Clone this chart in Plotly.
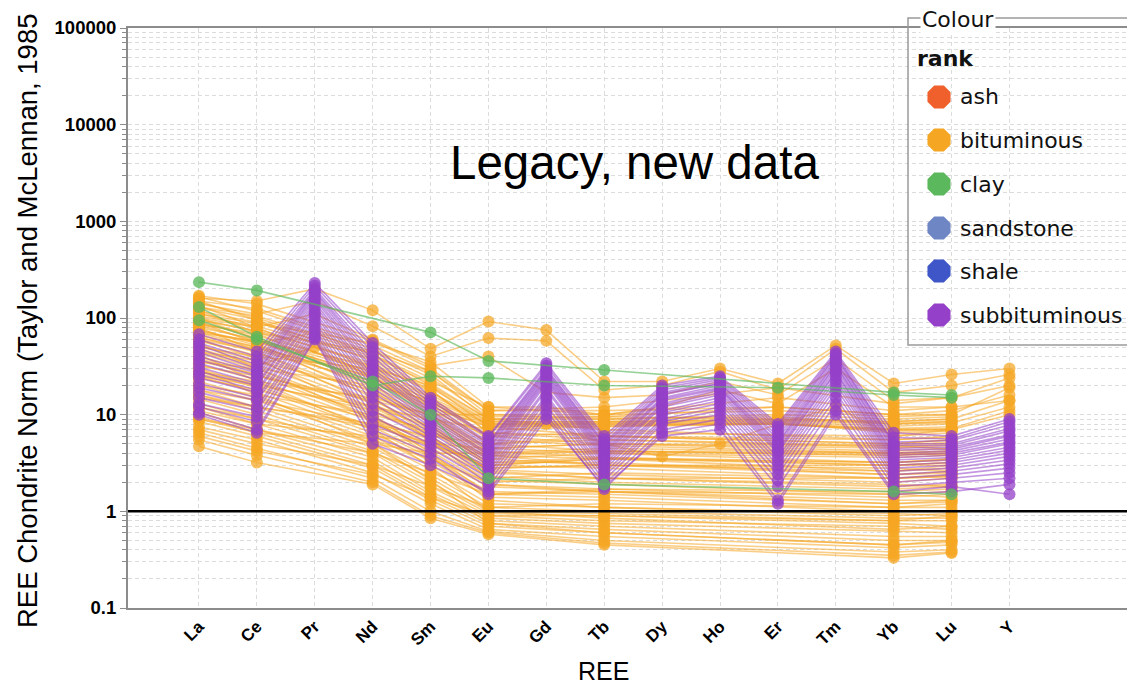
import plotly.graph_objects as go

N = None

# REE elements along the x axis
ree = ["La", "Ce", "Pr", "Nd", "Sm", "Eu", "Gd", "Tb", "Dy", "Ho", "Er", "Tm", "Yb", "Lu", "Y"]

# chondrite-normalised values, one row per sample (order follows `ree`)
bituminous = [
    [160, 150, 200, 120, 48, 92, 75, 22, 22, 30, 21, 52, 21, 26, 30],
    [140, 110, 150, 82, 40, 62, 58, 18, 20, 28, 18, 48, 17, 20, 26],
    [100, 80, 110, 60, 32, 40, 17, 15, 16, 22, 16, 38, 14, 15, 20],
    [75, 55, 70, 42, 22, 12, 12, 10, 12, 18, 13, 30, 12, 12, 14],
    [45, 32, 50, 24, 11, 6, 8, 5, 3.7, 5, 8, 12, 6, 7, 10],
    [170, 140, N, 58, 30, 11, N, 12, N, N, 19, N, 13, 15, 24],
    [150, 125, N, 52, 28, 10, N, 10, N, N, 15, N, 11, 12, N],
    [130, 105, N, 45, 24, 9.5, N, 9.5, N, N, 12, N, 10, 10, 19],
    [118, 90, N, 40, 21, 9, N, 9, N, N, 10, N, 9, 9.5, N],
    [105, 82, N, 38, 19, 8.5, N, 8.5, N, N, 9, N, 8.5, 9, 14],
    [95, 74, N, 34, 17, 8.5, N, 8.5, N, N, 8.8, N, 8.2, 8.5, N],
    [88, 66, N, 30, 16, 8.2, N, 8.4, N, N, 8.6, N, 8, 8.2, 12],
    [80, 60, N, 28, 15, 8, N, 8.2, N, N, 8.4, N, 7.6, 8, N],
    [72, 56, N, 26, 14, 8, N, 8, N, N, 8.2, N, 7.2, 7.5, N],
    [66, 50, N, 24, 13, 7.8, N, 8, N, N, 8, N, 7, 7.2, 11],
    [60, 46, N, 22, 12, 7.6, N, 7.8, N, N, 8, N, 6.8, 7, N],
    [150, 95, N, 30, 12, 7.5, N, 7.6, N, N, 8.2, N, 6.5, 6.8, N],
    [110, 88, N, 55, 35, 12, N, 10, N, N, 11, N, 9.5, 10, N],
    [85, 70, N, 45, 28, 11, N, 11, N, N, 12, N, 10, 11, 16],
    [50, 40, N, 30, 20, 9, N, 9.5, N, N, 9, N, 8.5, 9, N],
    [25, 20, N, 12, 9, 7, N, 7.5, N, N, 8, N, 7, 7, N],
    [32, 25, N, 14, 10, 10, N, 9, N, N, 9.5, N, 8, 8.5, N],
    [165, 118, N, 48, 26, 9, N, 7, N, N, N, N, 5.5, 6, N],
    [145, 100, N, 42, 20, 7.5, N, 6, N, N, N, N, 5, 5.5, N],
    [135, 80, N, 25, 10, 3.8, N, 3, N, N, N, N, 2.4, 2.6, N],
    [128, 96, N, 36, 18, 6.5, N, 5.5, N, N, N, N, 4.6, 5, N],
    [120, 70, N, 20, 8, 3, N, 3.5, N, N, N, N, 3, 3.2, N],
    [112, 78, N, 32, 15, 6, N, 5, N, N, N, N, 4.8, 4.4, N],
    [100, 60, N, 18, 7, 2.6, N, 2.2, N, N, N, N, 1.8, 1.9, N],
    [98, 72, N, 27, 14, 5.5, N, 4.8, N, N, N, N, 4, 4.2, N],
    [92, 62, N, 24, 12, 5, N, 4.2, N, N, N, N, 3.8, 4, N],
    [90, 55, N, 15, 6, 2.2, N, 2.5, N, N, N, N, 2.2, 2.4, N],
    [84, 58, N, 22, 11, 4.5, N, 4, N, N, N, N, 3.2, 3.5, N],
    [80, 45, N, 13, 5.5, 1.9, N, 1.6, N, N, N, N, 1.2, 1.3, N],
    [76, 52, N, 20, 10, 4.2, N, 3.6, N, N, N, N, 3, 3.2, N],
    [70, 58, N, 32, 18, 6.5, N, 6, N, N, N, N, 5.5, 5.8, N],
    [70, 50, N, 17, 9, 3.8, N, 3.5, N, N, N, N, 2.6, 3, N],
    [64, 44, N, 16, 8.5, 3.5, N, 3, N, N, N, N, 2.8, 2.6, N],
    [62, 48, N, 25, 13, 5, N, 5.5, N, N, N, N, 4.8, 5.2, N],
    [60, 38, N, 10, 4, 1.5, N, 1.6, N, N, N, N, 1.5, 1.4, N],
    [58, 41, N, 14, 7.5, 3.2, N, 3.2, N, N, N, N, 2.4, 2.5, N],
    [55, 30, N, 9, 3.8, 1.3, N, 1.1, N, N, N, N, 0.9, 0.95, N],
    [52, 36, N, 13, 7, 3, N, 2.8, N, N, N, N, 2.2, 2.3, N],
    [48, 33, N, 12, 6, 2.7, N, 2.4, N, N, N, N, 2, 2.2, N],
    [45, 36, N, 18, 9.5, 4, N, 4.2, N, N, N, N, 3.8, 4, N],
    [44, 30, N, 11, 5.8, 2.5, N, 2.2, N, N, N, N, 1.9, 1.8, N],
    [42, 22, N, 7, 2.9, 1.0, N, 0.85, N, N, N, N, 0.65, 0.7, N],
    [40, 28, N, 9.5, 5, 2.3, N, 2, N, N, N, N, 1.7, 1.8, N],
    [38, 26, N, 12, 7.5, 3.2, N, 3.6, N, N, N, N, 3.2, 3.5, N],
    [36, 26, N, 9, 4.6, 2.1, N, 1.9, N, N, N, N, 1.5, 1.6, N],
    [35, 30, N, 20, 14, 6, N, 6.5, N, N, N, N, 6, 6.5, N],
    [33, 23, N, 8.5, 4.2, 1.9, N, 1.7, N, N, N, N, 1.4, 1.5, N],
    [30, 20, N, 7.5, 3.8, 1.8, N, 1.6, N, N, N, N, 1.3, 1.3, N],
    [30, 16, N, 5, 2.1, 0.75, N, 0.6, N, N, N, N, 0.45, 0.5, N],
    [28, 22, N, 15, 10, 4.5, N, 5, N, N, N, N, 4.5, 4.8, N],
    [28, 19, N, 7, 3.6, 1.6, N, 1.5, N, N, N, N, 1.2, 1.25, N],
    [26, 21, N, 11, 6.5, 3.8, N, 4.2, N, N, N, N, 4, 4.2, N],
    [25, 17, N, 6.5, 3.3, 1.5, N, 1.4, N, N, N, N, 1.1, 1.1, N],
    [24, 18, N, 9, 5.5, 2.8, N, 3, N, N, N, N, 2.6, 2.8, N],
    [22, 15, N, 6, 3, 1.4, N, 1.3, N, N, N, N, 1.0, 1.0, N],
    [20, 16, N, 10, 7, 3.5, N, 4, N, N, N, N, 3.6, 3.8, N],
    [20, 14, N, 5.5, 2.7, 1.2, N, 1.1, N, N, N, N, 0.95, 0.9, N],
    [18, 14, N, 8, 5, 3, N, 3.5, N, N, N, N, 3.2, 3.4, N],
    [18, 12, N, 5, 2.4, 1.1, N, 1.0, N, N, N, N, 0.85, 0.85, N],
    [16, 12, N, 7.5, 5, 2.8, N, 3, N, N, N, N, 3, 3, N],
    [16, 11, N, 4.6, 2.2, 1.0, N, 0.95, N, N, N, N, 0.8, 0.8, N],
    [15, 12, N, 8, 6, 5, N, 6, N, N, N, N, 5, 5.5, N],
    [14.5, 10, N, 4.2, 2, 0.95, N, 0.9, N, N, N, N, 0.75, 0.7, N],
    [13, 9, N, 4, 1.8, 0.9, N, 0.8, N, N, N, N, 0.7, 0.65, N],
    [12, 9, N, 5.5, 3.5, 2, N, 2.2, N, N, N, N, 2.2, 2.3, N],
    [12, 8, N, 3.6, 1.6, 0.85, N, 0.75, N, N, N, N, 0.62, 0.6, N],
    [11, 8, N, 6, 5, 4.5, N, 5, N, N, N, N, 4.2, 4.5, N],
    [10.5, 7, N, 3.3, 1.5, 0.8, N, 0.7, N, N, N, N, 0.55, 0.55, N],
    [9.5, 6.5, N, 3, 1.4, 0.75, N, 0.65, N, N, N, N, 0.5, 0.5, N],
    [9, 7, N, 4, 2.5, 1.5, N, 1.7, N, N, N, N, 1.6, 1.7, N],
    [9, 6.5, N, 5, 4, 4, N, 4.5, N, N, N, N, 4, 3.8, N],
    [8.5, 6, N, 2.8, 1.3, 0.7, N, 0.6, N, N, N, N, 0.45, 0.48, N],
    [7.5, 5.5, N, 2.5, 1.2, 0.65, N, 0.55, N, N, N, N, 0.42, 0.45, N],
    [7, 5, N, 3, 1.8, 1.1, N, 1.2, N, N, N, N, 1.1, 1.2, N],
    [6.5, 4.5, N, 2.2, 1.0, 0.62, N, 0.5, N, N, N, N, 0.38, 0.4, N],
    [6, 4.2, N, 2.4, 1.4, 0.9, N, 0.9, N, N, N, N, 0.8, 0.9, N],
    [5.5, 3.8, N, 2.0, 0.9, 0.6, N, 0.47, N, N, N, N, 0.35, 0.38, N],
    [4.7, 3.2, N, 1.9, 0.85, 0.58, N, 0.45, N, N, N, N, 0.33, 0.37, N],
]

subbituminous = [
    [68, 45, 230, 55, 15, 6, 34, 6, 20, 25, 8, 45, 6.5, 6, 9],
    [60, 40, 215, 50, 14, 5.8, 32, 5.6, 19, 24, 7.5, 43, 5.8, 5.6, 8.5],
    [55, 36, 200, 44, 13, 5.2, 30, 5.2, 18, 23, 7, 41, 5.2, 5.4, 7.8],
    [52, 33, 190, 40, 12, 5, 29, 5, 17, 22, 6.5, 40, 5, 5, 7.2],
    [48, 30, 185, 36, 11, 4.8, 28, 4.8, 16.5, 21, 6, 38, 4.8, 4.8, 6.8],
    [44, 28, 175, 33, 10.5, 4.5, 27, 4.5, 16, 21, 5.6, 36, 4.5, 4.6, 6.2],
    [40, 27, 165, 30, 10, 4.3, 26, 4.3, 15, 20, 5.2, 35, 4.3, 4.4, 6],
    [37, 25, 155, 28, 9.5, 4, 25, 4.1, 14.5, 19, 5, 33, 4, 4.2, 5.6],
    [34, 23, 145, 25, 9, 3.8, 24, 3.9, 14, 18.5, 4.7, 32, 3.8, 4, 5.2],
    [31, 21, 135, 23, 8.5, 3.6, 23, 3.7, 13, 18, 4.4, 30, 3.6, 3.8, 5],
    [28, 20, 125, 21, 8, 3.4, 22, 3.5, 12.5, 17, 4.2, 28, 3.4, 3.6, 4.6],
    [26, 18, 115, 19, 7.5, 3.2, 21, 3.3, 12, 16, 4, 27, 3.2, 3.4, 4.3],
    [24, 17, 108, 17, 7, 3, 19, 3.1, 11, 15, 3.6, 25, 3, 3.2, 4],
    [21, 15, 100, 15, 6.5, 2.8, 18, 2.9, 10.5, 14, 3.3, 23, 2.8, 3, 3.7],
    [19, 14, 92, 13, 6, 2.6, 16, 2.7, 10, 13, 3, 21, 2.6, 2.8, 3.4],
    [17, 12, 85, 11, 5.5, 2.4, 15, 2.5, 9, 12, 2.7, 19, 2.4, 2.6, 3.1],
    [15, 11, 78, 9.5, 5, 2.2, 14, 2.3, 8.5, 11, 2.4, 17, 2.2, 2.4, 2.8],
    [13, 9.5, 72, 8, 4.5, 2, 12.5, 2.1, 8, 10, 2.1, 15, 2, 2.2, 2.5],
    [12, 8.5, 66, 7, 4, 1.8, 11, 1.9, 7, 9, 1.8, 13, 1.8, 2, 2.2],
    [10.5, 7, 62, 6, 3.5, 1.5, 9, 1.8, 6, 7, 1.2, 10, 1.5, 1.6, 1.9],
    [10, 6.5, 60, 5, 3, 1.6, 10, 1.7, 6.5, 8, 1.3, 11, 1.6, 1.8, 1.5],
]

clay = [
    [235, 193, N, N, 71, 36, N, 29, N, N, N, N, 17, 16, N],
    [130, 64, N, 20, 25, 24, N, 20, N, N, 19, N, 16, 15, N],
    [95, 60, N, 22, 10, 2.2, N, 1.9, N, N, N, N, 1.6, 1.5, N],
]

# legend categories and their colours
ranks = ["ash", "bituminous", "clay", "sandstone", "shale", "subbituminous"]
rank_colors = ["#F0602C", "#F5A623", "#5CB85C", "#6E86C4", "#3F56C8", "#9440C8"]

ytick_vals = [0.1, 1, 10, 100, 1000, 10000, 100000]
ytick_text = ["0.1", "1", "10", "100", "1000", "10000", "100000"]

# plot-area geometry in pixels
W, H = 1127, 684
PL, PR, PT, PB = 128, 1127, 28, 608
X_LO, X_HI = -1.226, 16.03


def px_x(px):
    return (px - PL) / (PR - PL)


def px_y(py):
    return (PB - py) / (PB - PT)


def rgba(hex_color, a):
    h = hex_color.lstrip("#")
    r, g, b = int(h[0:2], 16), int(h[2:4], 16), int(h[4:6], 16)
    return f"rgba({r},{g},{b},{a})"


fig = go.Figure()
xs = list(range(len(ree)))

series = [
    (bituminous, rank_colors[1], 0.55, 0.72),
    (subbituminous, rank_colors[5], 0.55, 0.75),
    (clay, rank_colors[2], 0.65, 0.78),
]
for rows, color, line_a, mark_a in series:
    for row in rows:
        fig.add_trace(go.Scatter(
            x=xs, y=row, mode="lines+markers", connectgaps=True,
            line=dict(color=rgba(color, line_a), width=1.6),
            marker=dict(color=rgba(color, mark_a), size=12, line=dict(width=0)),
            showlegend=False, hoverinfo="skip",
        ))

# chondrite = 1 reference line
fig.add_trace(go.Scatter(
    x=[X_LO, X_HI], y=[1, 1], mode="lines",
    line=dict(color="black", width=2.5), showlegend=False, hoverinfo="skip",
))

# colour key drawn on an overlay in pixel units
leg_y = [97, 140, 184, 228, 271, 315]
fig.add_trace(go.Scatter(
    x=[939] * len(ranks), y=leg_y, mode="markers", xaxis="x2", yaxis="y2",
    marker=dict(symbol="octagon", size=25, color=rank_colors, line=dict(width=0)),
    showlegend=False, hoverinfo="skip", cliponaxis=False,
))

minor_vals = [m * 10 ** e for e in range(-1, 5) for m in range(2, 10)]
grid_col = "#dcdcdc"
axis_col = "#8c8c8c"

fig.update_layout(
    width=W, height=H,
    margin=dict(l=PL, r=W - PR, t=PT, b=H - PB, pad=0),
    paper_bgcolor="white", plot_bgcolor="white",
    font=dict(family="Liberation Sans, Arial", color="black"),
    xaxis=dict(
        range=[X_LO, X_HI], tickmode="array", tickvals=xs, ticktext=ree,
        tickangle=-45, tickfont=dict(size=17, family="Liberation Sans, Arial", weight="bold"),
        showgrid=True, gridcolor=grid_col, griddash="4px,3px", gridwidth=1,
        showline=True, linecolor=axis_col, linewidth=2, mirror=True,
        ticks="", zeroline=False,
    ),
    yaxis=dict(
        type="log", range=[-1, 5], tickmode="array",
        tickvals=ytick_vals, ticktext=ytick_text,
        tickfont=dict(size=18.5, family="Liberation Sans, Arial", weight="bold"),
        showgrid=True, gridcolor=grid_col, griddash="4px,3px", gridwidth=1,
        showline=True, linecolor=axis_col, linewidth=2,
        ticks="outside", ticklen=6, tickcolor=axis_col,
        minor=dict(tickvals=minor_vals, showgrid=True, gridcolor=grid_col,
                   griddash="4px,3px", ticks="outside", ticklen=4, tickcolor=axis_col),
        zeroline=False,
    ),
    xaxis2=dict(overlaying="x", range=[PL, PR], visible=False, fixedrange=True),
    yaxis2=dict(overlaying="y", range=[PB, PT], visible=False, fixedrange=True),
)

# key box: white fill under the data layer, outline on top
fig.add_shape(type="rect", xref="paper", yref="paper",
              x0=px_x(908), x1=px_x(1140), y0=px_y(345), y1=px_y(18),
              fillcolor="white", line=dict(width=0), layer="between")
fig.add_shape(type="rect", xref="paper", yref="paper",
              x0=px_x(908), x1=px_x(1140), y0=px_y(345), y1=px_y(18),
              fillcolor="rgba(0,0,0,0)", line=dict(color="#9a9a9a", width=1.5), layer="above")

key_font = "DejaVu Sans"
fig.add_annotation(x=px_x(920), y=px_y(19), xref="paper", yref="paper",
                   text="Colour", showarrow=False, xanchor="left", yanchor="middle",
                   bgcolor="white", borderpad=1,
                   font=dict(family=key_font, size=22, color="#111"))
fig.add_annotation(x=px_x(915), y=px_y(58), xref="paper", yref="paper",
                   text="<b>rank</b>", showarrow=False, xanchor="left", yanchor="middle",
                   font=dict(family=key_font, size=22, color="#111"))
for name, yy in zip(ranks, leg_y):
    fig.add_annotation(x=px_x(958), y=px_y(yy), xref="paper", yref="paper",
                       text=name, showarrow=False, xanchor="left", yanchor="middle",
                       font=dict(family=key_font, size=22, color="#111"))

# axis titles and caption
fig.add_annotation(x=px_x(27), y=px_y(321), xref="paper", yref="paper",
                   text="REE Chondrite Norm (Taylor and McLennan, 1985",
                   textangle=-90, showarrow=False, xanchor="center", yanchor="middle",
                   font=dict(size=27.5, family="Liberation Sans, Arial", color="black"))
fig.add_annotation(x=px_x(603), y=px_y(671), xref="paper", yref="paper",
                   text="REE", showarrow=False, xanchor="center", yanchor="middle",
                   font=dict(size=25, family="Liberation Sans, Arial", color="black"))
fig.add_annotation(x=px_x(634), y=px_y(163), xref="paper", yref="paper",
                   text="Legacy, new data", showarrow=False, xanchor="center", yanchor="middle",
                   font=dict(size=47.5, family="Liberation Sans, Arial", color="black"))

fig.write_html("out.html")
